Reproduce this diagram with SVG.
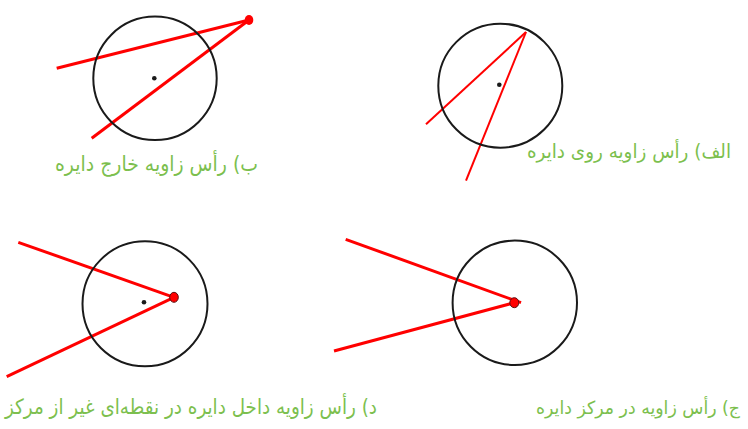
<svg xmlns="http://www.w3.org/2000/svg" width="748" height="429" viewBox="0 0 748 429">
<style>
.circ{fill:none;stroke:#1a1a1a;stroke-width:2}
.cdot{fill:#1a1a1a}
.ray{stroke:#ff0000;stroke-width:3;stroke-linecap:butt;fill:none}
.ray-thin{stroke:#ff0000;stroke-width:2;fill:none}
.vtx{fill:#ff0000;stroke:#5a1010;stroke-width:1}
.lbl{font-family:"DejaVu Sans","Noto Sans",sans-serif;font-size:21px;fill:#7cbf4e;text-anchor:middle}
</style>
<rect width="748" height="429" fill="#ffffff"/>
<g id="connectors">
  <line class="ray-thin" x1="526" y1="32" x2="426" y2="124.3"/>
  <line class="ray-thin" x1="526" y1="32" x2="466" y2="180.7"/>
  <line class="ray" x1="249" y1="20" x2="56.7" y2="68.3"/>
  <line class="ray" x1="249" y1="20" x2="91.7" y2="138.3"/>
  <line class="ray" x1="521" y1="302.7" x2="345.7" y2="239.3"/>
  <line class="ray" x1="514.3" y1="302.7" x2="334" y2="351"/>
  <line class="ray" x1="174" y1="297.3" x2="18.3" y2="242.3"/>
  <line class="ray" x1="174" y1="297.3" x2="6.7" y2="376.7"/>
</g>
<g id="node-a">
  <circle class="circ" cx="500.3" cy="85.7" r="62"/>
  <circle class="cdot" cx="499.3" cy="84.7" r="2.3"/>
  <text class="lbl" x="629" y="158" direction="rtl" textLength="204" lengthAdjust="spacingAndGlyphs" style="font-size:19.5px">الف) رأس زاویه روی دایره</text>
</g>
<g id="node-b">
  <circle class="circ" cx="155" cy="78.3" r="61.7"/>
  <circle class="cdot" cx="154.3" cy="78.3" r="2.3"/>
  <ellipse cx="249" cy="20" rx="4.3" ry="5" fill="#ff0000"/>
  <text class="lbl" x="156.5" y="171" direction="rtl" textLength="203" lengthAdjust="spacingAndGlyphs">ب) رأس زاویه خارج دایره</text>
</g>
<g id="node-c">
  <circle class="circ" cx="514.8" cy="302.8" r="62.2"/>
  <ellipse class="vtx" cx="514.3" cy="302.7" rx="4.5" ry="5"/>
  <text class="lbl" x="638" y="414" direction="rtl" textLength="204" lengthAdjust="spacingAndGlyphs" style="font-size:18px">ج) رأس زاویه در مرکز دایره</text>
</g>
<g id="node-d">
  <circle class="circ" cx="145" cy="303.8" r="62.5"/>
  <circle class="cdot" cx="144" cy="302.3" r="2.3"/>
  <ellipse class="vtx" cx="174" cy="297.3" rx="4.3" ry="5"/>
  <text class="lbl" x="191" y="414" direction="rtl" textLength="372" lengthAdjust="spacingAndGlyphs">د) رأس زاویه داخل دایره در نقطه‌ای غیر از مرکز</text>
</g>
</svg>
